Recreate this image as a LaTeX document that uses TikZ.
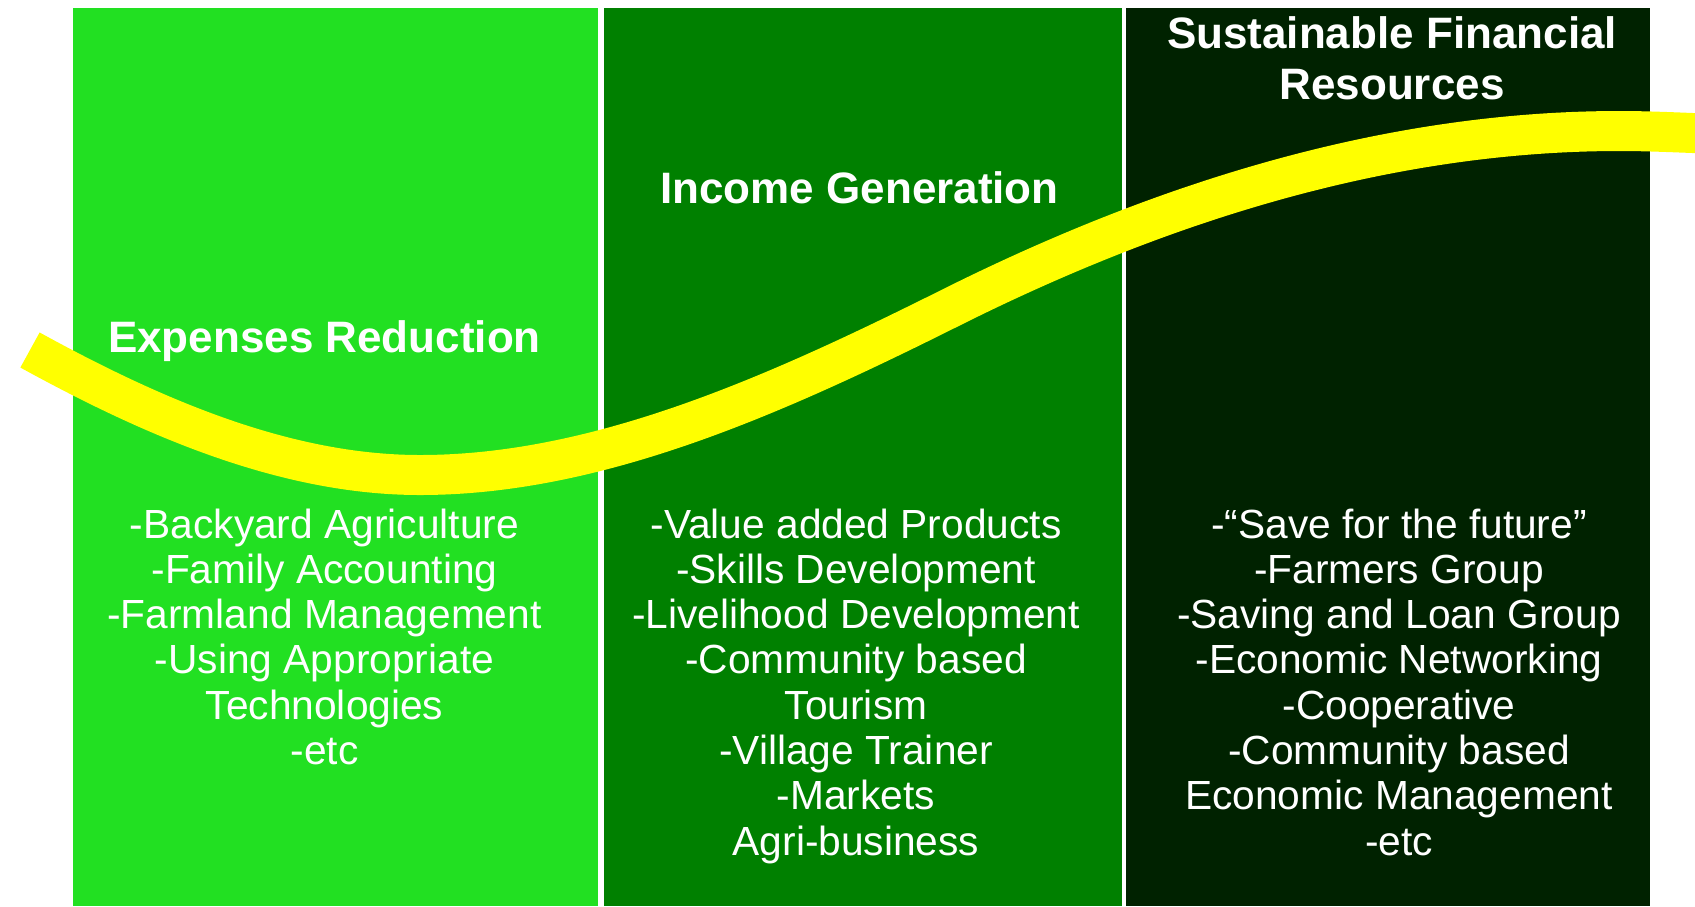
\documentclass[tikz,border=0pt]{standalone}
\usepackage{fontspec}
\setmainfont{Liberation Sans}
\definecolor{gA}{RGB}{34,224,34}
\definecolor{gB}{RGB}{0,128,0}
\definecolor{gC}{RGB}{0,34,0}
\definecolor{yel}{RGB}{255,255,0}
\begin{document}
\begin{tikzpicture}[x=0.5pt,y=-0.5pt,
  ttl/.style={text=white,font=\fontsize{22}{25.5}\selectfont\bfseries,anchor=base,inner sep=0pt},
  itm/.style={text=white,font=\fontsize{20.35}{22.65}\selectfont,anchor=base,inner sep=0pt},
  band/.style={yel,line width=20pt,line cap=butt}]
\useasboundingbox (0,0) rectangle (1695,906);
\fill[white] (0,0) rectangle (1695,906);
% panels
\fill[gA] (73,8) rectangle (598,906);
\fill[gB] (604,8) rectangle (1122,906);
\fill[gC] (1126,8) rectangle (1650,906);
% yellow curve
\coordinate (s0) at (30,350);
\coordinate (s1) at (420,475);
\coordinate (s2) at (950,308);
\coordinate (s3) at (1620,131);
\coordinate (s4) at (1720,134);
\draw[band] (s0) .. controls (160,421.5) and (290,475) .. (s1)
  .. controls (596.7,475) and (773.3,396.3) .. (s2)
  .. controls (1173.3,196.3) and (1396.7,131) .. (s3)
  .. controls (1653,131) and (1687,133) .. (s4);
% titles
\node[ttl] (t1) at (324.5,352) {Expenses Reduction};
\node[ttl] (t2) at (859.5,203) {Income Generation};
\node[ttl] (t3a) at (1392,48) {Sustainable Financial};
\node[ttl] (t3b) at (1392,99) {Resources};
% column 1
\foreach \txt [count=\i] in {-Backyard Agriculture,-Family Accounting,-Farmland Management,-Using Appropriate,Technologies,-etc}
  \node[itm] (a\i) at (324.5,{538+(\i-1)*45.3}) {\txt};
% column 2
\foreach \txt [count=\i] in {-Value added Products,-Skills Development,-Livelihood Development,-Community based,Tourism,-Village Trainer,-Markets,Agri-business}
  \node[itm] (b\i) at (856,{538+(\i-1)*45.3}) {\txt};
% column 3
\foreach \txt [count=\i] in {-“Save for the future”,-Farmers Group,-Saving and Loan Group,-Economic Networking,-Cooperative,-Community based,Economic Management,-etc}
  \node[itm] (c\i) at (1399,{538+(\i-1)*45.3}) {\txt};
\end{tikzpicture}
\end{document}
